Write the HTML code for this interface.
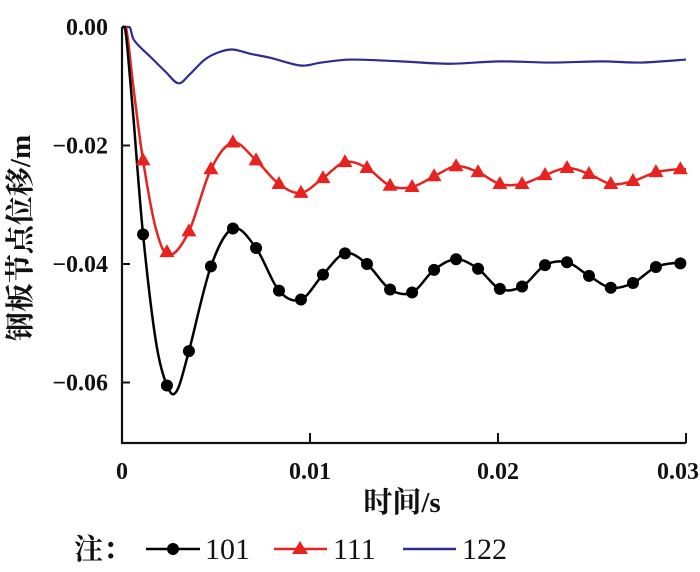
<!DOCTYPE html>
<html><head><meta charset="utf-8"><style>
html,body{margin:0;padding:0;background:#fff;width:700px;height:572px;overflow:hidden}
svg text{font-family:"Liberation Serif","Noto Serif CJK SC",serif;fill:#111}
</style></head><body>
<svg id="chart" width="700" height="572" xmlns="http://www.w3.org/2000/svg">
<g id="plot"></g>
<g id="axes"></g>
<text x="30" y="238" font-size="29" font-weight="bold" text-anchor="middle" transform="rotate(-90 30 238)">钢板节点位移/m</text>
<text x="402" y="512" font-size="29" font-weight="bold" text-anchor="middle">时间/s</text>
<g>
<text x="74" y="559" font-size="29" font-weight="bold">注：</text>
<g><line x1="146" y1="549" x2="200" y2="549" stroke="#000" stroke-width="2.5"/><circle cx="173" cy="549" r="6" fill="#000"/><text x="205" y="559" font-size="30">101</text></g>
<g><line x1="274" y1="549" x2="327" y2="549" stroke="#e8231f" stroke-width="2.5"/><polygon points="300,541 308,554 292,554" fill="#e8231f"/><text x="333" y="559" font-size="30">111</text></g>
<g><line x1="403" y1="549" x2="456" y2="549" stroke="#2e2d8f" stroke-width="2.5"/><text x="462" y="559" font-size="30">122</text></g>
</g>
</svg>
<script>
const xTicks=[0,0.01,0.02,0.03];
const xTickLabels=["0","0.01","0.02","0.03"];
const yTicks=[0,-0.02,-0.04,-0.06];
const yTickLabels=["0.00","−0.02","−0.04","−0.06"];
// times in ms
const t101=[0,0.15,0.3,0.6,1.12,1.8,2.39,2.9,3.56,4.73,5.9,7.13,8.35,9.52,10.69,11.86,13.03,14.26,15.43,16.6,17.77,18.94,20.1,21.28,22.5,23.67,24.84,26.0,27.18,28.4,29.57,30];
const v101=[0,0,-0.004,-0.015,-0.035,-0.053,-0.0605,-0.0615,-0.0547,-0.0404,-0.034,-0.0373,-0.0445,-0.046,-0.0418,-0.0382,-0.04,-0.0443,-0.0448,-0.041,-0.0392,-0.0408,-0.0442,-0.0438,-0.0402,-0.0397,-0.042,-0.044,-0.0432,-0.0405,-0.0398,-0.04];
const m101t=[1.12,2.39,3.56,4.73,5.9,7.13,8.35,9.52,10.69,11.86,13.03,14.26,15.43,16.6,17.77,18.94,20.1,21.28,22.5,23.67,24.84,26.0,27.18,28.4,29.7];
const m101v=[-0.035,-0.0605,-0.0547,-0.0404,-0.034,-0.0373,-0.0445,-0.046,-0.0418,-0.0382,-0.04,-0.0443,-0.0448,-0.041,-0.0392,-0.0408,-0.0442,-0.0438,-0.0402,-0.0397,-0.042,-0.044,-0.0432,-0.0405,-0.0399];
const t111=[0,0.2,0.35,0.6,1.12,1.8,2.5,3.56,4.73,5.9,7.13,8.35,9.52,10.69,11.86,13.03,14.26,15.43,16.6,17.77,18.94,20.1,21.28,22.5,23.67,24.84,26.0,27.18,28.4,29.57,30];
const v111=[0,0,-0.003,-0.01,-0.0225,-0.034,-0.0385,-0.0345,-0.024,-0.0195,-0.0225,-0.0265,-0.028,-0.0255,-0.0228,-0.0238,-0.0268,-0.027,-0.0252,-0.0235,-0.0245,-0.0265,-0.0265,-0.025,-0.0238,-0.0248,-0.0265,-0.026,-0.0245,-0.024,-0.024];
const m111t=[1.12,2.39,3.56,4.73,5.9,7.13,8.35,9.52,10.69,11.86,13.03,14.26,15.43,16.6,17.77,18.94,20.1,21.28,22.5,23.67,24.84,26.0,27.18,28.4,29.7];
const m111v=[-0.0225,-0.038,-0.0345,-0.024,-0.0195,-0.0225,-0.0265,-0.028,-0.0255,-0.0228,-0.0238,-0.0268,-0.027,-0.0252,-0.0235,-0.0245,-0.0265,-0.0265,-0.025,-0.0238,-0.0248,-0.0265,-0.026,-0.0245,-0.024];
const t122=[0,0.4,0.6,1.0,1.5,2.3,3.0,3.6,4.4,5.2,5.9,6.8,7.9,9.5,10.6,12.2,14.8,17.4,20.1,22.8,25.5,27.6,30];
const v122=[0,0,-0.002,-0.0035,-0.005,-0.0075,-0.0095,-0.008,-0.0055,-0.0042,-0.0038,-0.0045,-0.0052,-0.0065,-0.006,-0.0055,-0.0058,-0.0062,-0.0058,-0.006,-0.0058,-0.006,-0.0055];
const X0=122,X1=686,Y0=27,YB=443;
const sx=t=>X0+(t/30)*(X1-X0);
const sxv=v=>X0+(v/0.03)*(X1-X0);
const sy=v=>Y0-v*5925;
const NS="http://www.w3.org/2000/svg";
const plot=document.getElementById('plot'),axes=document.getElementById('axes');
function mk(tag,attrs,parent){const e=document.createElementNS(NS,tag);for(const k in attrs)e.setAttribute(k,attrs[k]);parent.appendChild(e);return e;}
function smooth(ts,vs){const p=ts.map((t,i)=>[sx(t),sy(vs[i])]);let d=`M${p[0][0]},${p[0][1]}`;
for(let i=0;i<p.length-1;i++){const a=p[Math.max(0,i-1)],b=p[i],c=p[i+1],e=p[Math.min(p.length-1,i+2)];
d+=` C${b[0]+(c[0]-a[0])/6},${Math.max(Y0,b[1]+(c[1]-a[1])/6)} ${c[0]-(e[0]-b[0])/6},${Math.max(Y0,c[1]-(e[1]-b[1])/6)} ${c[0]},${c[1]}`;}return d;}
const ax=mk('path',{d:`M${X0},${Y0} L${X0},${YB} L${X1},${YB}`,fill:'none',stroke:'#111','stroke-width':2.2},axes);


xTicks.forEach((v,i)=>{const x=sxv(v);
 if(i>0){const l=mk('line',{x1:x,y1:YB,x2:x,y2:YB-10,stroke:'#111','stroke-width':2},axes);
 
 }
 const tx=mk('text',{x:i==3?x-8:x,y:YB+36,'font-size':24,'font-weight':'bold','text-anchor':'middle'},axes);tx.textContent=xTickLabels[i];
 
 });
yTicks.forEach((v,i)=>{const y=sy(v);
 if(i>0){const l=mk('line',{x1:X0,y1:y,x2:X0+8,y2:y,stroke:'#111','stroke-width':2},axes);
 
 }
 const tx=mk('text',{x:108,y:y+8,'font-size':24,'font-weight':'bold','text-anchor':'end'},axes);tx.textContent=yTickLabels[i];
 
 });
const l122=mk('path',{d:smooth(t122,v122),fill:'none',stroke:'#2e2d8f','stroke-width':2.2},plot);


const l111=mk('path',{d:smooth(t111,v111),fill:'none',stroke:'#e8231f','stroke-width':2.5},plot);


const l101=mk('path',{d:smooth(t101,v101),fill:'none',stroke:'#000','stroke-width':2.5},plot);


m111t.forEach((t,i)=>{const x=sx(t),y=sy(m111v[i]);
 const p=mk('polygon',{points:`${x},${y-8} ${x+7.5},${y+5} ${x-7.5},${y+5}`,fill:'#e8231f'},plot);
 
 });
m101t.forEach((t,i)=>{const c=mk('circle',{cx:sx(t),cy:sy(m101v[i]),r:6,fill:'#000'},plot);
 
 });
</script>
</body></html>
